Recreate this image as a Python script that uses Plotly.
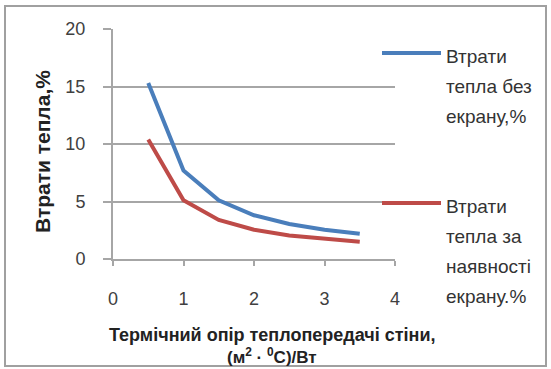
import plotly.graph_objects as go

# ---- data ----
r_values = [0.5, 1.0, 1.5, 2.0, 2.5, 3.0, 3.5]
loss_no_screen = [15.3, 7.7, 5.1, 3.8, 3.05, 2.55, 2.2]
loss_with_screen = [10.4, 5.1, 3.4, 2.55, 2.05, 1.75, 1.5]
series_names = ["Втрати<br>тепла без<br>екрану,%", "Втрати<br>тепла за<br>наявності<br>екрану.%"]
series_colors = ["#4a7ebb", "#be4b48"]
x_ticks = [0, 1, 2, 3, 4]
y_ticks = [0, 5, 10, 15, 20]
x_title_lines = ["Термічний опір теплопередачі стіни,", "(м<sup>2</sup> · <sup>0</sup>С)/Вт"]
y_title = "Втрати тепла,%"

W, H = 551, 369
L, R, T, B = 113, 395, 29, 259  # plot area pixel bounds

def px(x):
    return (x - L) / (R - L)

def py(y):
    return (B - y) / (B - T)

FONT = "Liberation Sans, Arial"

fig = go.Figure()
for ys, name, col in zip([loss_no_screen, loss_with_screen], series_names, series_colors):
    fig.add_trace(go.Scatter(x=r_values, y=ys, mode="lines", name=name,
                             line=dict(color=col, width=4), showlegend=False))

fig.update_layout(
    width=W, height=H,
    margin=dict(l=L, r=W - R, t=T, b=H - B),
    paper_bgcolor="white", plot_bgcolor="white",
    xaxis=dict(range=[0, 4], tickvals=x_ticks, showgrid=False, zeroline=False,
               showline=True, linecolor="#a6a6a6", linewidth=2,
               ticks="outside", ticklen=5, tickcolor="#a6a6a6", tickwidth=2,
               ticklabelstandoff=17,
               tickfont=dict(family=FONT, size=18, color="#404040")),
    yaxis=dict(range=[0, 20], tickvals=y_ticks, showgrid=True, gridcolor="#a6a6a6",
               gridwidth=2, zeroline=False, showline=True, linecolor="#a6a6a6", linewidth=2,
               ticks="outside", ticklen=8, tickcolor="#a6a6a6", tickwidth=2,
               ticklabelstandoff=14,
               tickfont=dict(family=FONT, size=18, color="#404040")),
)

# outer chart border
fig.add_shape(type="rect", xref="paper", yref="paper",
              x0=px(5), x1=px(546), y0=py(6), y1=py(366),
              line=dict(color="#a0a0a0", width=2), fillcolor="rgba(0,0,0,0)")

# y title
fig.add_annotation(xref="paper", yref="paper", x=px(42), y=py(152), text="<b>%s</b>" % y_title,
                   textangle=-90, showarrow=False, xanchor="center", yanchor="middle",
                   font=dict(family=FONT, size=21, color="#222222"))

# x title
for i, line in enumerate(x_title_lines):
    fig.add_annotation(xref="paper", yref="paper", x=px(272), y=py(335 + 21 * i),
                       text="<b>%s</b>" % line, showarrow=False,
                       xanchor="center", yanchor="middle",
                       font=dict(family=FONT, size=18 if i == 0 else 17, color="#222222"))

# legend
legend_y = [53, 203]
for name, col, ly in zip(series_names, series_colors, legend_y):
    fig.add_shape(type="line", xref="paper", yref="paper",
                  x0=px(382), x1=px(441), y0=py(ly), y1=py(ly),
                  line=dict(color=col, width=4))
    for j, part in enumerate(name.split("<br>")):
        fig.add_annotation(xref="paper", yref="paper", x=px(444), y=py(ly + 3 + 30 * j),
                           text=part, showarrow=False, xanchor="left", yanchor="middle",
                           font=dict(family=FONT, size=19, color="#333333"))

fig.write_html("out.html")
